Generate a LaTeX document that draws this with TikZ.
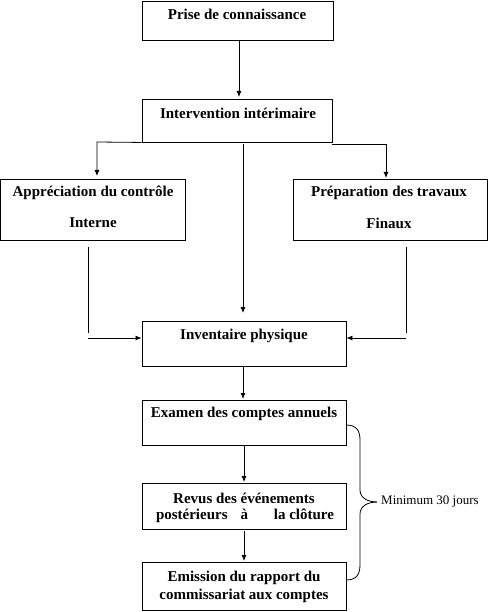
\documentclass[tikz,border=0pt]{standalone}
\usepackage{fontspec}
\setmainfont{Liberation Serif}
\usetikzlibrary{arrows.meta,decorations.pathreplacing}
\begin{document}
\begin{tikzpicture}[x=1pt,y=-1pt,
  box/.style={draw,line width=0.9pt,rectangle,inner sep=0pt},
  lbl/.style={inner sep=0pt,font=\fontsize{15}{18}\selectfont\bfseries},
  conn/.style={line width=0.8pt},
  arr/.style={line width=0.8pt,-{Latex[length=6pt,width=5pt]}}]
\useasboundingbox (0,0) rectangle (488,612);
% boxes (corner coordinates)
\node[box,minimum width=191pt,minimum height=39pt] (b1) at (237.5,20.5) {};
\node[box,minimum width=190pt,minimum height=43pt] (b2) at (237,120.5) {};
\node[box,minimum width=185pt,minimum height=61pt] (bl) at (92.5,209.5) {};
\node[box,minimum width=194pt,minimum height=61pt] (br) at (390,209.5) {};
\node[box,minimum width=204pt,minimum height=45pt] (b3) at (244,343.5) {};
\node[box,minimum width=204pt,minimum height=45pt] (b4) at (244,422.5) {};
\node[box,minimum width=204pt,minimum height=46pt] (b5) at (244,506) {};
\node[box,minimum width=204pt,minimum height=48pt] (b6) at (244,586) {};
% labels
\node[lbl] (t1) at (237,14) {Prise de connaissance};
\node[lbl] (t2) at (238,113) {Intervention intérimaire};
\node[lbl] (tl1) at (93,193) {Appréciation du contrôle};
\node[lbl] (tl2) at (93,223) {Interne};
\node[lbl] (tr1) at (389,193) {Préparation des travaux};
\node[lbl] (tr2) at (389,223) {Finaux};
\node[lbl] (t3) at (244,336) {Inventaire physique};
\node[lbl] (t4) at (244,414) {Examen des comptes annuels};
\node[lbl] (t5a) at (244,498) {Revus des événements};
\node[lbl] (t5b) at (245,516) {\makebox[178pt][s]{postérieurs\hspace{0pt plus 1fil}à\hspace{0pt plus 2fil}la\ clôture}};
\node[lbl] (t6a) at (244,578) {Emission du rapport du};
\node[lbl] (t6b) at (244,596) {commissariat aux comptes};
% connectors
\draw[arr] (b1.south -| 239,0) -- (239,97);
\coordinate (lc) at (97,142);
\draw[arr] (b2.south west) -- (lc) -- (97,176);
\coordinate (rc) at (386,144);
\draw[arr] (332,144) -- (rc) -- (386,178);
\draw[arr] (243,144) -- (243,313);
\coordinate (lv1) at (88,247);
\coordinate (lv2) at (88,333);
\draw[conn] (lv1) -- (lv2);
\draw[arr] (88,338) -- (b3.west |- 0,338);
\coordinate (rv1) at (406,247);
\coordinate (rv2) at (406,333);
\draw[conn] (rv1) -- (rv2);
\draw[arr] (406,338) -- (b3.east |- 0,338);
\draw[arr] (243,366) -- (243,399);
\draw[arr] (244,445) -- (244,482);
\draw[arr] (244,531) -- (244,561);
% brace
\coordinate (bt) at (346,425);
\coordinate (bb) at (346,580);
\coordinate (btip) at (377,502);
\draw[conn] (bt) .. controls (356,425) and (360,430) .. (360,440)
  -- (360,490) .. controls (360,498) and (368,502) .. (btip);
\draw[conn] (bb) .. controls (356,580) and (360,575) .. (360,565)
  -- (360,514) .. controls (360,506) and (368,502) .. (btip);
\node[inner sep=0pt,anchor=west,font=\fontsize{13}{16}\selectfont] (note) at (381,502) {Minimum 30 jours};
\end{tikzpicture}
\end{document}
